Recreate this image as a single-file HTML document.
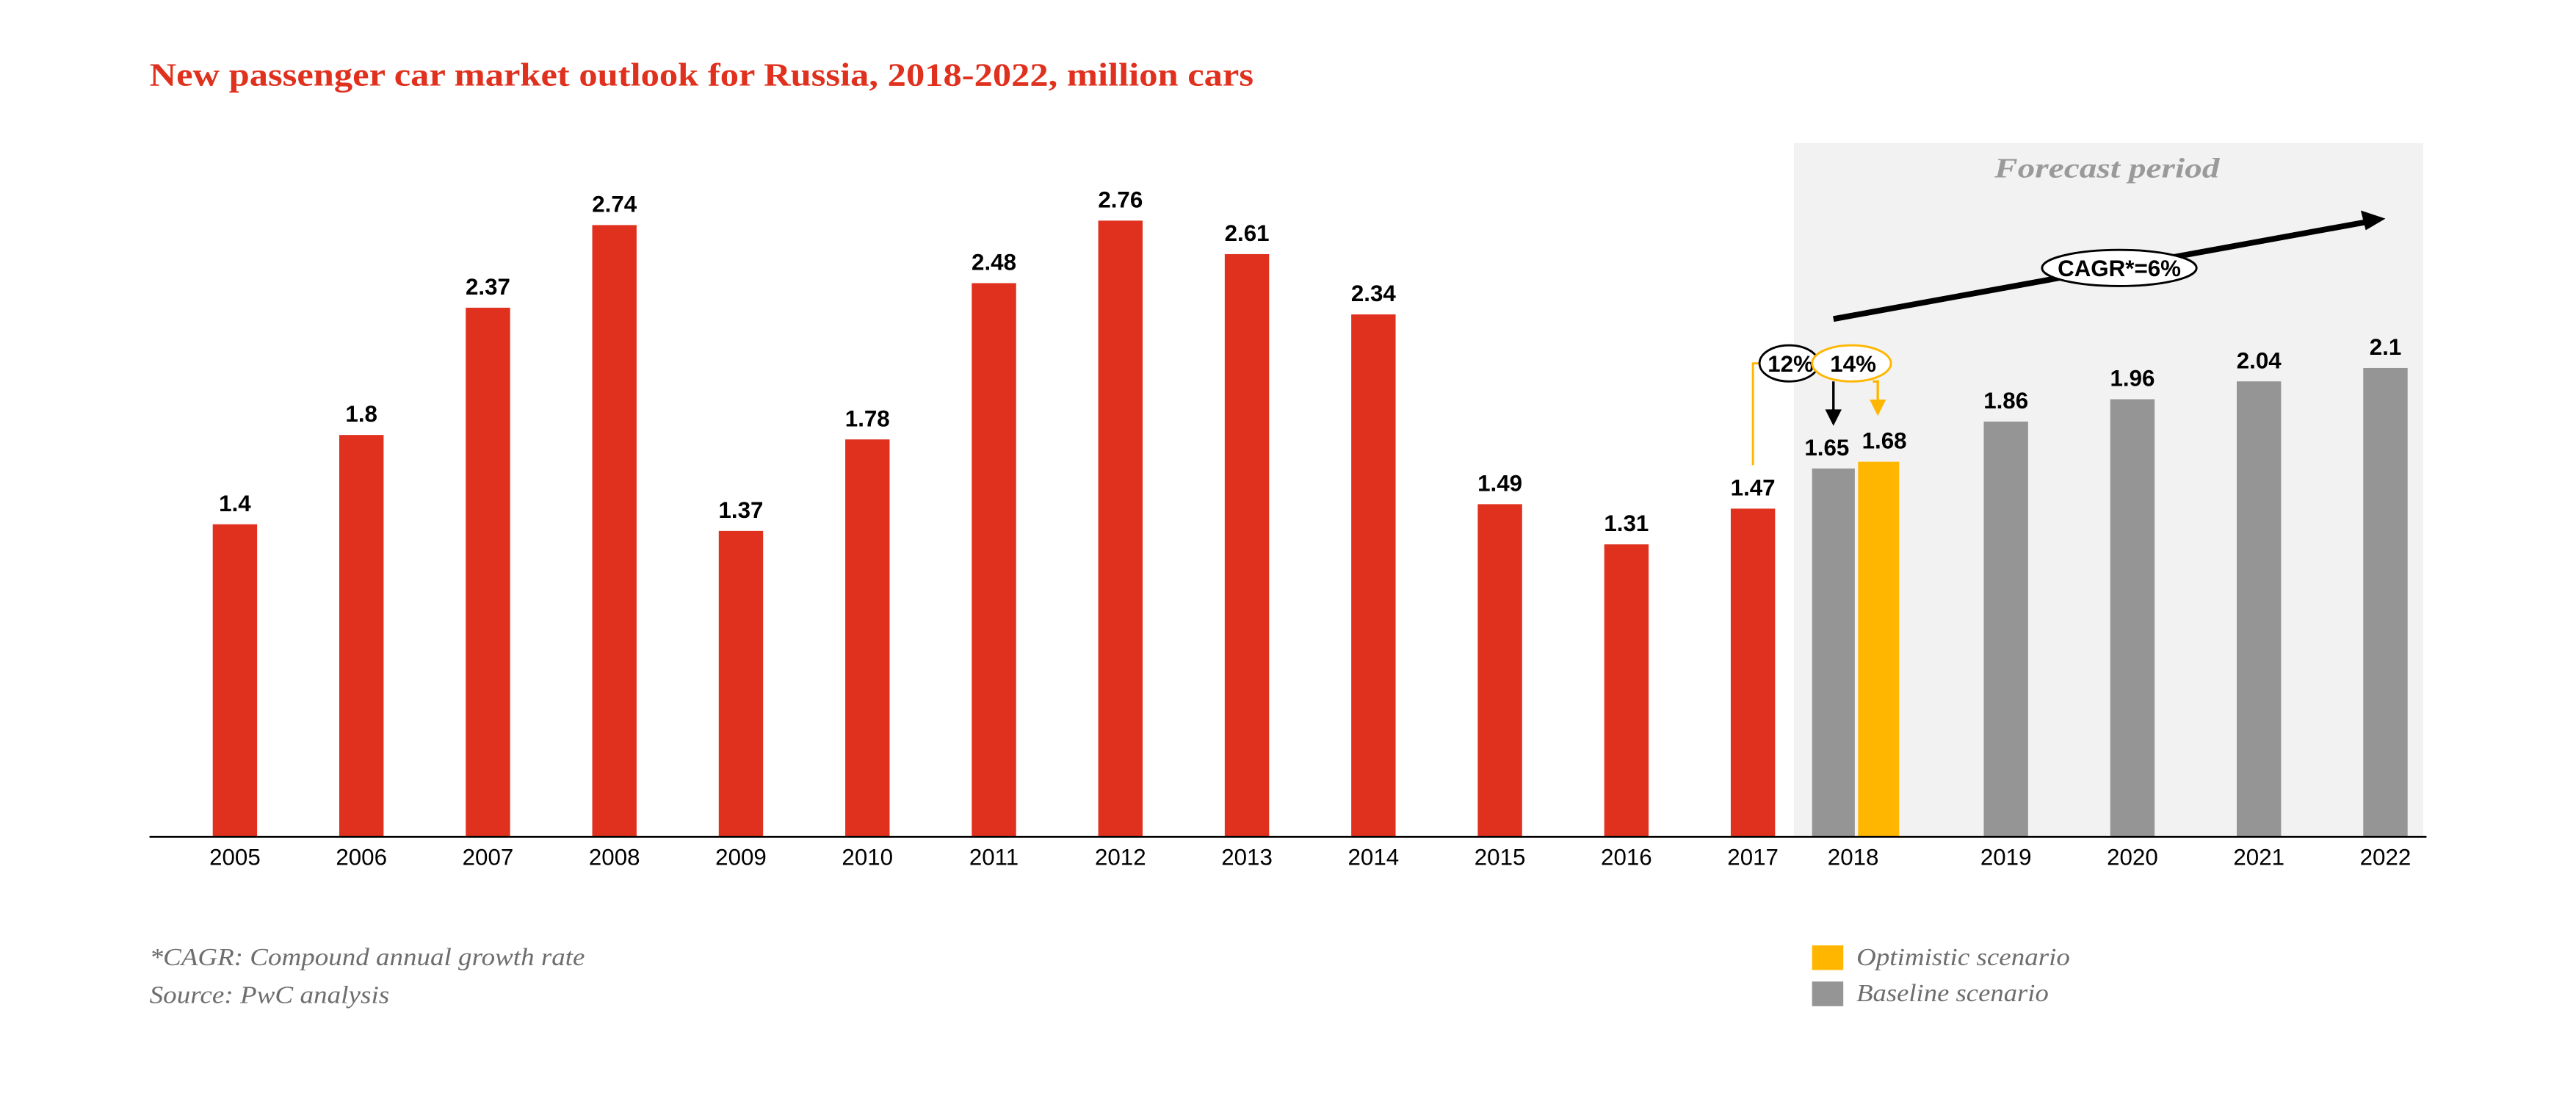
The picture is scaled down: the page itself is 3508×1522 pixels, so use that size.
<!DOCTYPE html>
<html><head><meta charset="utf-8"><style>
html,body{margin:0;padding:0;background:#fff;}
svg{display:block;}
</style></head><body>
<svg id="chart" width="3508" height="1522" viewBox="0 0 1568 680" preserveAspectRatio="none" xmlns="http://www.w3.org/2000/svg">
<rect x="1092" y="87" width="383" height="422" fill="#f2f2f2"/>
<text x="91" y="52" textLength="672" lengthAdjust="spacingAndGlyphs" font-family="Liberation Serif, serif" font-weight="bold" font-size="20" fill="#e0301e">New passenger car market outlook for Russia, 2018-2022, million cars</text>
<text x="1214" y="108" textLength="137" lengthAdjust="spacingAndGlyphs" font-family="Liberation Serif, serif" font-weight="bold" font-style="italic" font-size="17" fill="#9a9a9a">Forecast period</text>
<g id="bars"></g>
<line x1="91" y1="509" x2="1477" y2="509" stroke="#000" stroke-width="1.2"/>
<line x1="1116" y1="194" x2="1446" y2="134" stroke="#000" stroke-width="3.5"/>
<path d="M1452,133 L1437,128 L1440,140 z" fill="#000"/>
<ellipse cx="1290" cy="163" rx="47" ry="11" fill="#fff" stroke="#000" stroke-width="1.3"/>
<text x="1290" y="168" text-anchor="middle" font-family="Liberation Sans, sans-serif" font-weight="bold" font-size="14">CAGR*=6%</text>
<polyline points="1067,283 1067,221 1072,221" fill="none" stroke="#ffb600" stroke-width="1.3"/>
<ellipse cx="1089" cy="221" rx="18" ry="11" fill="#fff" stroke="#000" stroke-width="1.3"/>
<text x="1090" y="226" text-anchor="middle" font-family="Liberation Sans, sans-serif" font-weight="bold" font-size="14">12%</text>
<ellipse cx="1127" cy="221" rx="24" ry="11" fill="#fff" stroke="#ffb600" stroke-width="1.3"/>
<text x="1128" y="226" text-anchor="middle" font-family="Liberation Sans, sans-serif" font-weight="bold" font-size="14">14%</text>
<line x1="1116" y1="232" x2="1116" y2="250" stroke="#000" stroke-width="1.5"/>
<path d="M1111,249 L1121,249 L1116,259 z" fill="#000"/>
<polyline points="1140,232 1143,232 1143,243" fill="none" stroke="#ffb600" stroke-width="1.5"/>
<path d="M1138,243 L1148,243 L1143,253 z" fill="#ffb600"/>
<text x="91" y="587" textLength="265" lengthAdjust="spacingAndGlyphs" font-family="Liberation Serif, serif" font-style="italic" font-size="15" fill="#6e6e6e">*CAGR: Compound annual growth rate</text>
<text x="91" y="610" textLength="146" lengthAdjust="spacingAndGlyphs" font-family="Liberation Serif, serif" font-style="italic" font-size="15" fill="#6e6e6e">Source: PwC analysis</text>
<rect x="1103" y="575" width="19" height="15" fill="#ffb600"/>
<text x="1130" y="587" textLength="130" lengthAdjust="spacingAndGlyphs" font-family="Liberation Serif, serif" font-style="italic" font-size="15" fill="#6e6e6e">Optimistic scenario</text>
<rect x="1103" y="597" width="19" height="15" fill="#959595"/>
<text x="1130" y="609" textLength="117" lengthAdjust="spacingAndGlyphs" font-family="Liberation Serif, serif" font-style="italic" font-size="15" fill="#6e6e6e">Baseline scenario</text>
</svg>
<script>
const histYears = ["2005","2006","2007","2008","2009","2010","2011","2012","2013","2014","2015","2016","2017"];
const histValues = [1.4,1.8,2.37,2.74,1.37,1.78,2.48,2.76,2.61,2.34,1.49,1.31,1.47];
const forecastYears = ["2019","2020","2021","2022"];
const forecastValues = [1.86,1.96,2.04,2.1];
const baseline2018 = 1.65;
const optimistic2018 = 1.68;

const NS = "http://www.w3.org/2000/svg";
const g = document.getElementById("bars");
const baseY = 509, pxPerUnit = 135.8;
function yScale(v){ return baseY - v*pxPerUnit; }
function xHist(i){ return 143 + i*77; }
function xFc(i){ return 1221 + i*77; }
function bar(cx, v, color, name, labelText, w, lx){
  const r = document.createElementNS(NS,"rect");
  r.setAttribute("x", cx - w/2); r.setAttribute("y", yScale(v));
  r.setAttribute("width", w); r.setAttribute("height", v*pxPerUnit);
  r.setAttribute("fill", color);
  
  
  g.appendChild(r);
  const t = document.createElementNS(NS,"text");
  t.setAttribute("x", lx); t.setAttribute("y", yScale(v) - 8);
  t.setAttribute("text-anchor","middle");
  t.setAttribute("font-family","Liberation Sans, sans-serif");
  t.setAttribute("font-weight","bold"); t.setAttribute("font-size","14");
  t.textContent = labelText;
  
  
  g.appendChild(t);
}
function yearLabel(cx, txt){
  const t = document.createElementNS(NS,"text");
  t.setAttribute("x", cx); t.setAttribute("y", 526);
  t.setAttribute("text-anchor","middle");
  t.setAttribute("font-family","Liberation Sans, sans-serif");
  t.setAttribute("font-size","14");
  t.textContent = txt;
  
  
  g.appendChild(t);
}
histValues.forEach((v,i)=>{ bar(xHist(i), v, "#e0301e", "bar-"+histYears[i], String(v), 27, xHist(i)); yearLabel(xHist(i), histYears[i]); });
bar(1116, baseline2018, "#959595", "bar-2018-baseline", String(baseline2018), 26, 1112);
bar(1143.5, optimistic2018, "#ffb600", "bar-2018-optimistic", String(optimistic2018), 25, 1147);
yearLabel(1128, "2018");
forecastValues.forEach((v,i)=>{ bar(xFc(i), v, "#959595", "bar-"+forecastYears[i], String(v), 27, xFc(i)); yearLabel(xFc(i), forecastYears[i]); });
</script>
</body></html>
